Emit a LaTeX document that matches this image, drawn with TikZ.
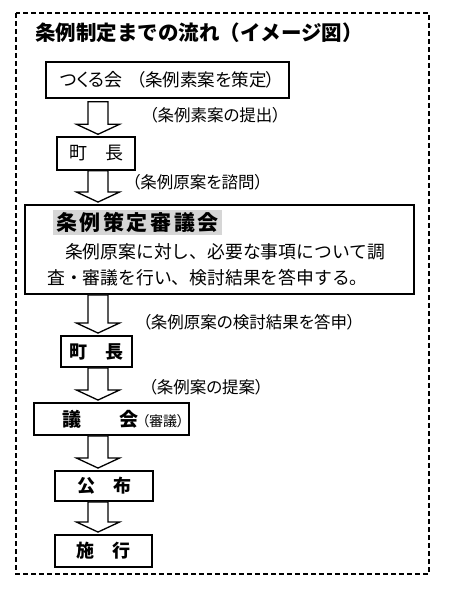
\documentclass[tikz,border=0pt]{standalone}
\usepackage{fontspec}
\setmainfont{Noto Sans CJK JP}
\newfontfamily\jp{Noto Sans CJK JP}
\newfontfamily\jpp[RawFeature=+palt]{Noto Sans CJK JP}
\newfontfamily\jpls[LetterSpace=12]{Noto Sans CJK JP}
\usetikzlibrary{calc}
\definecolor{hlgray}{RGB}{214,214,214}
\newcommand\setfs[1]{\fontsize{#1}{#1}\selectfont}
\newcommand\blockarr[3][0]{%
  \draw[barrow] let \p1=(ax |- #2.south), \p2=(ax |- #3.north) in
   (\x1-10pt,\y1-#1pt) -- (\x1+10pt,\y1-#1pt) -- (\x1+10pt,\y2+12pt)
   -- (\x1+21.5pt,\y2+12pt) -- (\x1,\y2+2pt) -- (\x1-21.5pt,\y2+12pt)
   -- (\x1-10pt,\y2+12pt) -- cycle;}
\tikzset{
  frame/.style={draw, dash pattern=on 5pt off 3pt, line width=1.3pt},
  box/.style={draw, line width=1.4pt, inner sep=0pt, anchor=center},
  hbox/.style={draw, line width=1.9pt, inner sep=0pt, anchor=center},
  barrow/.style={draw, line width=1.3pt, fill=white, line join=miter},
  lbl/.style={inner sep=0pt, anchor=center, font=\jpp\setfs{16.5}},
  heavy/.style={font=\jp\bfseries\setfs{18}},
  bodyline/.style={inner sep=0pt, anchor=west, font=\jp\setfs{17.8}},
}
\begin{document}
\begin{tikzpicture}[x=1pt,y=-1pt]
\useasboundingbox (0,0) rectangle (454,591);
\fill[white] (0,0) rectangle (454,591);
\draw[frame] (16,13) rectangle (429,574);
\coordinate (ax) at (98,0);
% title
\node[inner sep=0pt, anchor=west, font=\jp\bfseries\setfs{20.5}] (title) at (35,33) {条例制定までの流れ（イメージ図）};
% boxes
\node[box, minimum width=243pt, minimum height=36pt, font=\jpp\setfs{18}] (b1) at (167.5,80) {つくる会\hspace{14pt}{\setfs{17.5}（条例素案を策定）}};
\node[box, minimum width=78pt, minimum height=33pt, font=\jp\setfs{18}] (m1) at (96,153.5) {町　長};
\node[hbox, minimum width=389pt, minimum height=89pt] (big) at (219.5,249.5) {};
\node[inner sep=0pt, minimum width=169pt, minimum height=25pt, fill=hlgray, font=\jpls\bfseries\setfs{21}] (bigtitle) at (137.5,222.5) {条例策定審議会};
\node[bodyline] (line1) at (47,252) {　条例原案に対し、必要な事項について調};
\node[bodyline] (line2) at (47,278) {査・審議を行い、検討結果を答申する。};
\node[hbox, minimum width=71pt, minimum height=31pt, heavy] (m2) at (96.5,351.5) {町　長};
\node[hbox, minimum width=155pt, minimum height=32pt] (gikai) at (111.5,419) {};
\node[inner sep=0pt, anchor=west] (gikaitext) at (62,419) {{\jp\bfseries\setfs{19}議　　会}\hspace{4pt}{\jpp\setfs{14}（審議）}};
\node[hbox, minimum width=98pt, minimum height=30pt, heavy] (kofu) at (104,486) {公　布};
\node[hbox, minimum width=97pt, minimum height=32pt, heavy] (shiko) at (103.5,551) {施　行};
% arrows
\blockarr[3]{b1}{m1}
\blockarr{m1}{big}
\blockarr{big}{m2}
\blockarr{m2}{gikai}
\blockarr{gikai}{kofu}
\blockarr{kofu}{shiko}
% labels
\node[lbl] (l1) at (215,115) {（条例素案の提出）};
\node[lbl] (l2) at (197.5,182) {（条例原案を諮問）};
\node[lbl] (l3) at (249,322) {（条例原案の検討結果を答申）};
\node[lbl] (l4) at (206,387) {（条例案の提案）};
\end{tikzpicture}
\end{document}
